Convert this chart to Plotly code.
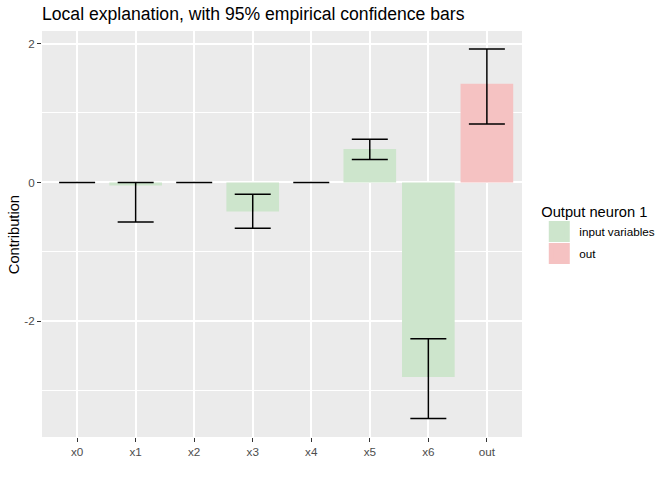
import plotly.graph_objects as go

# values
features = ["x0", "x1", "x2", "x3", "x4", "x5", "x6"]
contrib = [0.0, -0.046, 0.0, -0.42, 0.0, 0.48, -2.80]
ci_low = [0.0, -0.57, 0.0, -0.66, 0.0, 0.33, -3.40]
ci_high = [0.0, 0.0, 0.0, -0.17, 0.0, 0.62, -2.25]

out_label = ["out"]
out_value = [1.42]
out_low = [0.84]
out_high = [1.92]

categories = features + out_label
y_ticks = [-2, 0, 2]
y_ticktext = ["-2", "0", "2"]

green = "#cde5cc"
pink = "#f5c2c2"
font_family = "Liberation Sans, Arial, sans-serif"


def err(vals, lo, hi):
    return dict(
        type="data", symmetric=False,
        array=[h - v for v, h in zip(vals, hi)],
        arrayminus=[v - l for v, l in zip(vals, lo)],
        color="black", thickness=1.5, width=18,
    )


fig = go.Figure()

fig.add_trace(go.Bar(
    x=features, y=contrib, name="input variables", showlegend=False,
    marker=dict(color=green, line=dict(width=0)),
    width=0.9, error_y=err(contrib, ci_low, ci_high),
))

fig.add_trace(go.Bar(
    x=out_label, y=out_value, name="out", showlegend=False,
    marker=dict(color=pink, line=dict(width=0)),
    width=0.9, error_y=err(out_value, out_low, out_high),
))

# legend keys (ggplot style filled squares)
for name, col in [("input variables", green), ("out", pink)]:
    fig.add_trace(go.Scatter(
        x=[None], y=[None], mode="markers", name=name, legendgroup=name,
        marker=dict(symbol="square", size=16, color=col, line=dict(color=col, width=5)),
    ))

fig.add_annotation(
    text="Contribution", textangle=-90, showarrow=False,
    xref="paper", yref="paper", x=(13 - 42) / 486, y=0.498,
    xanchor="center", yanchor="middle",
    font=dict(size=14.7, color="black"),
)

fig.update_layout(
    width=672, height=480,
    margin=dict(l=42, r=144, t=31, b=43),
    paper_bgcolor="white",
    plot_bgcolor="#ebebeb",
    barmode="overlay",
    font=dict(family=font_family, color="black"),
    title=dict(
        text="Local explanation, with 95% empirical confidence bars",
        font=dict(size=17.6, color="black"),
        xref="paper", x=0, xanchor="left",
        yref="container", y=1 - 14 / 480, yanchor="middle",
    ),
    legend=dict(
        title=dict(text="Output neuron 1", font=dict(size=14.7, color="black")),
        font=dict(size=11.7, color="black"),
        x=1.036, xanchor="left", y=0.589, yanchor="top",
        bgcolor="rgba(0,0,0,0)", tracegroupgap=3,
    ),
    xaxis=dict(
        categoryorder="array", categoryarray=categories,
        range=[-0.6, len(categories) - 0.4],
        showgrid=True, gridcolor="white", gridwidth=1.9,
        ticks="outside", ticklen=4, tickcolor="#333333", tickwidth=1.4,
        tickfont=dict(size=11.7, color="#4d4d4d"),
        zeroline=False, showline=False, automargin=False,
    ),
    yaxis=dict(
        range=[-3.665, 2.18],
        tickvals=y_ticks, ticktext=y_ticktext,
        showgrid=True, gridcolor="white", gridwidth=1.9,
        minor=dict(dtick=1, showgrid=True, gridcolor="white", gridwidth=0.95),
        ticks="outside", ticklen=4, tickcolor="#333333", tickwidth=1.4,
        tickfont=dict(size=11.7, color="#4d4d4d"),
        zeroline=False, showline=False, automargin=False,
    ),
)

fig.write_html(
    "out.html",
    config={"displayModeBar": False},
    post_script="document.body.style.margin='0';",
)
